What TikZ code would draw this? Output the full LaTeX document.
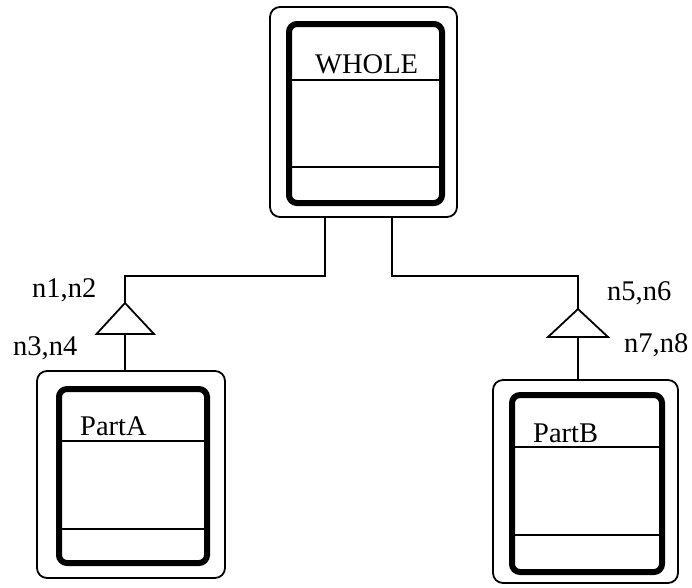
\documentclass[tikz,border=0pt]{standalone}
\usepackage{fontspec}
\setmainfont{Liberation Serif}

\tikzset{
  outerbox/.style={draw, line width=1.8pt, rounded corners=10pt, outer sep=0pt},
  innerbox/.style={draw, line width=6pt, rounded corners=8pt, outer sep=0pt},
  thin line/.style={line width=1.8pt},
  boxname/.style={anchor=base west, inner sep=0pt, font=\fontsize{28.5}{30}\selectfont},
  rolename/.style={anchor=base west, inner sep=0pt, font=\fontsize{28.5}{30}\selectfont}
}

\begin{document}
\begin{tikzpicture}[x=1pt, y=-1pt]
  \useasboundingbox (0,0) rectangle (692,587);

  % boxes
  \node[outerbox, minimum width=187pt, minimum height=210pt] (whole) at (363.5,112) {};
  \node[innerbox, minimum width=153pt, minimum height=179pt] (wholein) at (365.5,113.5) {};
  \node[outerbox, minimum width=188pt, minimum height=207pt] (parta) at (131,474.5) {};
  \node[innerbox, minimum width=148pt, minimum height=174pt] (partain) at (133,476) {};
  \node[outerbox, minimum width=185pt, minimum height=203pt] (partb) at (585.5,481.5) {};
  \node[innerbox, minimum width=150pt, minimum height=177pt] (partbin) at (587,483.5) {};

  % compartments
  \draw[thin line] (wholein.west |- 0,80) -- (wholein.east |- 0,80);
  \draw[thin line] (wholein.west |- 0,167) -- (wholein.east |- 0,167);
  \draw[thin line] (partain.west |- 0,441) -- (partain.east |- 0,441);
  \draw[thin line] (partain.west |- 0,529) -- (partain.east |- 0,529);
  \draw[thin line] (partbin.west |- 0,447) -- (partbin.east |- 0,447);
  \draw[thin line] (partbin.west |- 0,535) -- (partbin.east |- 0,535);

  % names
  \node[boxname] (wholename) at (315,73) {WHOLE};
  \node[boxname] (partaname) at (80,435) {PartA};
  \node[boxname] (partbname) at (533,442) {PartB};

  % aggregation triangles
  \coordinate (apexa) at (125,303);
  \coordinate (basea) at (125,334);
  \coordinate (joina) at (125,276);
  \coordinate (apexb) at (578,309);
  \coordinate (baseb) at (578,337);
  \coordinate (joinb) at (578,276);
  \draw[thin line, line join=miter] (apexa) -- ([xshift=-28.5pt]basea) -- ([xshift=29pt]basea) -- cycle;
  \draw[thin line, line join=miter] (apexb) -- ([xshift=-30pt]baseb) -- ([xshift=30pt]baseb) -- cycle;

  % connectors
  \draw[thin line] ([xshift=-38.5pt]whole.south) |- (joina) -- (apexa);
  \draw[thin line] ([xshift=28.5pt]whole.south) |- (joinb) -- (apexb);
  \draw[thin line] (basea) -- (basea |- parta.north);
  \draw[thin line] (baseb) -- (baseb |- partb.north);

  % labels
  \node[rolename] (n12) at (32,297) {n1,n2};
  \node[rolename] (n34) at (13,355) {n3,n4};
  \node[rolename] (n56) at (607,300) {n5,n6};
  \node[rolename] (n78) at (624,352) {n7,n8};
\end{tikzpicture}
\end{document}
